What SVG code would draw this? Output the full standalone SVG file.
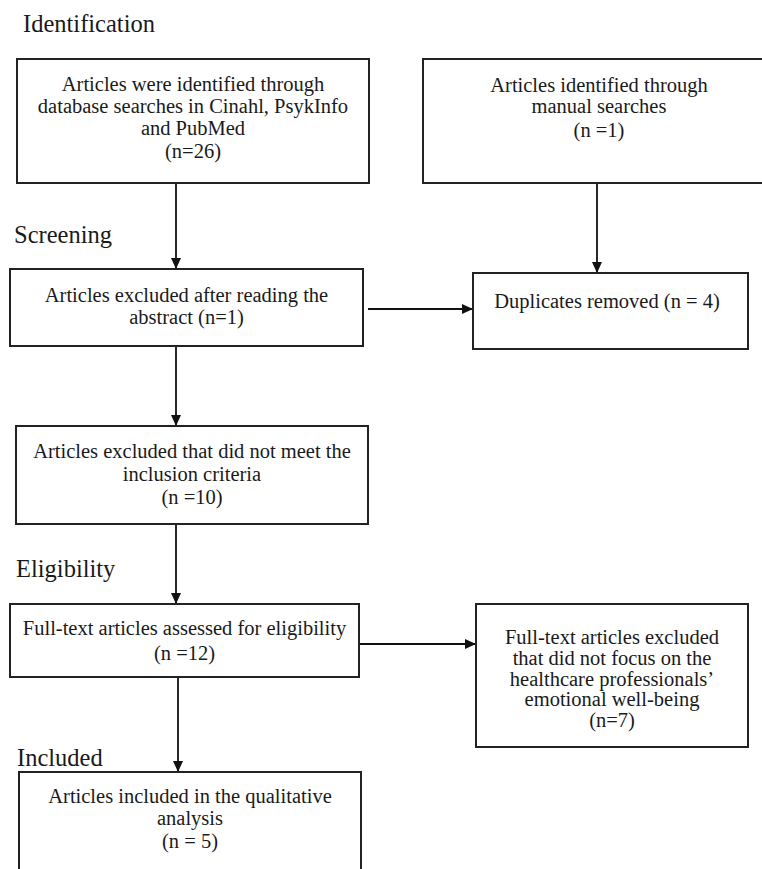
<svg xmlns="http://www.w3.org/2000/svg" width="762" height="869" viewBox="0 0 762 869">
<style>
.box{fill:#fff;stroke:#222;stroke-width:2}
.t{font-family:"Liberation Serif","Times New Roman",serif;font-size:20.5px;fill:#1a1a1a;text-anchor:middle}
.h{font-family:"Liberation Serif","Times New Roman",serif;font-size:24.5px;fill:#1a1a1a}
.c{stroke:#111;stroke-width:1.8;fill:none}
</style>
<defs>
<marker id="ah" markerUnits="userSpaceOnUse" markerWidth="12" markerHeight="12" viewBox="0 0 12 12" refX="11" refY="6" orient="auto">
<path d="M0,1 L11,6 L0,11 Z" fill="#111"/>
</marker>
</defs>
<rect width="762" height="869" fill="#fff"/>
<g id="labels">
<text class="h" x="23" y="32">Identification</text>
<text class="h" x="14" y="243">Screening</text>
<text class="h" x="16" y="577">Eligibility</text>
<text class="h" x="17" y="766">Included</text>
</g>
<g id="connectors">
<line class="c" x1="176" y1="183" x2="176" y2="269" marker-end="url(#ah)"/>
<line class="c" x1="597" y1="183" x2="597" y2="273" marker-end="url(#ah)"/>
<line class="c" x1="368" y1="309" x2="473" y2="309" marker-end="url(#ah)"/>
<line class="c" x1="176" y1="346" x2="176" y2="426" marker-end="url(#ah)"/>
<line class="c" x1="176" y1="524" x2="176" y2="604" marker-end="url(#ah)"/>
<line class="c" x1="359" y1="644" x2="476" y2="644" marker-end="url(#ah)"/>
<line class="c" x1="178" y1="677" x2="178" y2="772" marker-end="url(#ah)"/>
</g>
<g id="n1">
<rect class="box" x="17" y="59" width="352" height="124"/>
<text class="t" x="193" y="91">Articles were identified through</text>
<text class="t" x="193" y="113">database searches in Cinahl, PsykInfo</text>
<text class="t" x="193" y="135">and PubMed</text>
<text class="t" x="193" y="158">(n=26)</text>
</g>
<g id="n2">
<rect class="box" x="423" y="59" width="352" height="124"/>
<text class="t" x="599" y="92">Articles identified through</text>
<text class="t" x="599" y="113">manual searches</text>
<text class="t" x="599" y="137">(n =1)</text>
</g>
<g id="n3">
<rect class="box" x="10" y="269" width="353" height="77"/>
<text class="t" x="186.5" y="302">Articles excluded after reading the</text>
<text class="t" x="186.5" y="324">abstract (n=1)</text>
</g>
<g id="n4">
<rect class="box" x="473" y="273" width="275" height="76"/>
<text class="t" x="607" y="308">Duplicates removed (n = 4)</text>
</g>
<g id="n5">
<rect class="box" x="16" y="426" width="352" height="98"/>
<text class="t" x="192" y="458">Articles excluded that did not meet the</text>
<text class="t" x="192" y="481">inclusion criteria</text>
<text class="t" x="192" y="504">(n =10)</text>
</g>
<g id="n6">
<rect class="box" x="10" y="604" width="349" height="73"/>
<text class="t" x="184.5" y="635">Full-text articles assessed for eligibility</text>
<text class="t" x="184.5" y="660">(n =12)</text>
</g>
<g id="n7">
<rect class="box" x="476" y="604" width="272" height="143"/>
<text class="t" x="612" y="644">Full-text articles excluded</text>
<text class="t" x="612" y="665">that did not focus on the</text>
<text class="t" x="612" y="686">healthcare professionals’</text>
<text class="t" x="612" y="706">emotional well-being</text>
<text class="t" x="612" y="727">(n=7)</text>
</g>
<g id="n8">
<rect class="box" x="19" y="772" width="342" height="110"/>
<text class="t" x="190" y="803">Articles included in the qualitative</text>
<text class="t" x="190" y="825">analysis</text>
<text class="t" x="190" y="848">(n = 5)</text>
</g>
</svg>
